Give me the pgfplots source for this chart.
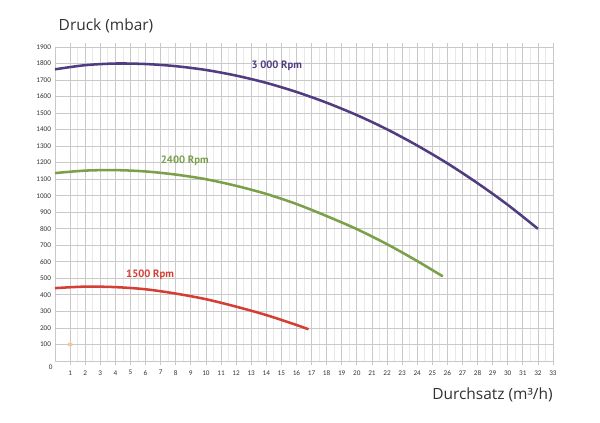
\documentclass[border=0pt]{standalone}
\usepackage{fontspec}
\setmainfont{Open Sans}
\newfontfamily\tickfont{Carlito}
\newfontfamily\labfont{PT Sans}
\usepackage{pgfplots}
\pgfplotsset{compat=1.18}
\definecolor{cpurple}{RGB}{80,60,128}
\definecolor{cgreen}{RGB}{122,160,74}
\definecolor{cred}{RGB}{212,62,52}
\definecolor{ctan}{RGB}{240,200,150}
\definecolor{ctext}{RGB}{50,50,50}
\begin{document}
\begin{tikzpicture}[x=0.75pt,y=0.75pt]
\path (0,0) rectangle (600,422);
\node[font=\fontsize{11.6}{14}\selectfont, text=ctext, inner sep=0pt] at (106,396) {Druck (mbar)};
\node[anchor=east, font=\fontsize{11.6}{14}\selectfont, text=ctext, inner sep=0pt] at (553,27) {Durchsatz (m³/h)};
\begin{axis}[
  at={(41.25pt,45.75pt)}, anchor=south west,
  scale only axis, width=373.5pt, height=235.5pt,
  xmin=0, xmax=33, ymin=0, ymax=1900,
  xtick={1,...,33}, ytick={100,200,...,1900},
  minor x tick num=1,
  grid=both,
  major grid style={gray!42, line width=0.6pt},
  minor grid style={gray!18, line width=0.5pt},
  axis line style={gray!42, line width=0.6pt},
  tick align=outside, major tick length=3pt, minor tick length=0pt,
  xtick style={gray!42, line width=0.6pt},
  ytick style={draw=none},
  /pgf/number format/assume math mode=true,
  /pgf/number format/1000 sep={},
  tick label style={font=\tickfont\fontsize{5.4}{6}\selectfont, text=ctext},
  xticklabel style={yshift=-0.5pt},
  yticklabel style={xshift=3.5pt},
  clip=false,
]
\addplot[cpurple, line width=1.9pt, smooth] coordinates {
(0,1765) (2,1790) (4,1800) (6,1797) (8,1784) (10,1761) (12,1727) (14,1683)
(16,1628) (18,1563) (20,1488) (22,1402) (24,1304) (26,1196) (28,1076) (30,945) (32,800)};
\addplot[cgreen, line width=1.9pt, smooth] coordinates {
(0,1137) (2,1152) (4,1155) (6,1147) (8,1128) (10,1100) (12,1060) (14,1011)
(16,950) (18,877) (20,798) (22,707) (24,605) (25.7,512)};
\addplot[cred, line width=1.9pt, smooth] coordinates {
(0,441) (2,450) (4,447) (6,434) (8,408) (10,374) (12,329) (14,278) (16,218) (16.8,192)};
\addplot[only marks, mark=asterisk, mark size=1.8pt, ctan, line width=0.8pt] coordinates {(1,100)};
\node[font=\labfont\bfseries\fontsize{8}{9}\selectfont, text=cpurple] at (axis cs:14.7,1788) {3 000 Rpm};
\node[font=\labfont\bfseries\fontsize{8}{9}\selectfont, text=cgreen] at (axis cs:8.6,1212) {2400 Rpm};
\node[font=\labfont\bfseries\fontsize{8}{9}\selectfont, text=cred] at (axis cs:6.3,520) {1500 Rpm};
\node[anchor=north east, inner sep=1pt, font=\tickfont\fontsize{5.4}{6}\selectfont, text=ctext] at (axis cs:-0.05,-15) {0};
\end{axis}
\end{tikzpicture}
\end{document}
